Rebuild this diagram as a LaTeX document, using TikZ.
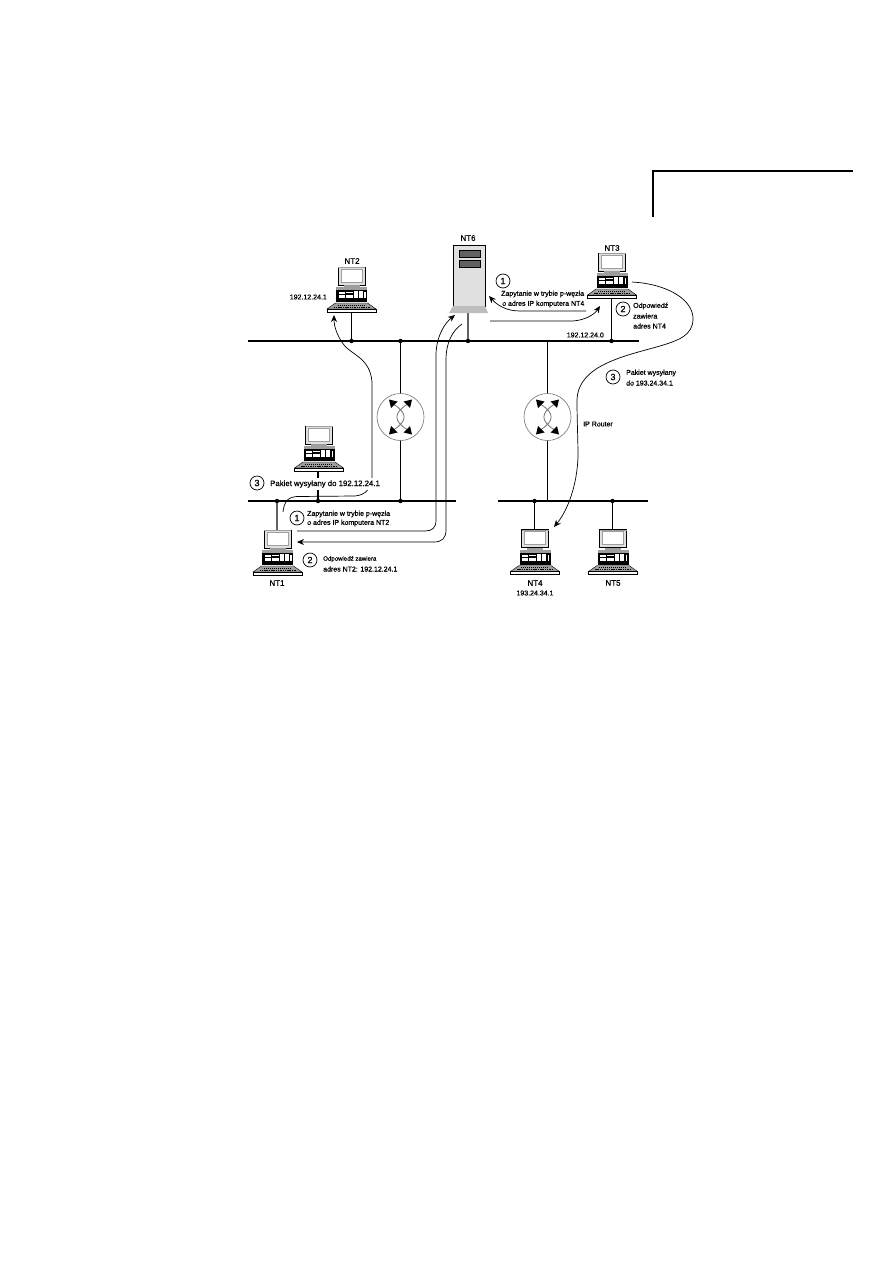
\documentclass[tikz,border=0pt]{standalone}
\usepackage{fontspec}
\setmainfont{Liberation Sans}[FakeBold=0.6]
\usetikzlibrary{arrows.meta}
\definecolor{casegray}{gray}{0.88}
\definecolor{midgray}{gray}{0.62}
\definecolor{lightbase}{gray}{0.74}
\definecolor{darkgray}{gray}{0.38}
\tikzset{
  x=1pt,y=-1pt,
  net/.style={line width=1.4pt,black},
  stem/.style={line width=1.2pt,black},
  greystem/.style={line width=1.8pt,darkgray},
  flow/.style={line width=.7pt,black,-{Stealth[length=7pt,width=6pt]}},
  lbl/.style={inner sep=0pt,font=\fontsize{7}{8}\selectfont},
  lblleft/.style={lbl,anchor=west},
  name lbl/.style={inner sep=0pt,font=\fontsize{8}{9}\selectfont},
  num/.style={circle,draw=black,line width=.7pt,fill=white,minimum size=14pt,inner sep=0pt,font=\fontsize{9}{10}\selectfont},
  dot/.style={circle,fill=black,inner sep=0pt,minimum size=4.4pt},
  computer/.pic={
    % monitor
    \draw[black,line width=.5pt,fill=casegray] (-13.5,-45) rectangle (13.5,-27);
    \fill[midgray] (-13.5,-45) rectangle (13.5,-44);
    \fill[white,draw=midgray,line width=.7pt] (-10.5,-43) rectangle (10.5,-30);
    \fill[midgray] (-8,-27) rectangle (8,-25);
    % system unit
    \fill[midgray] (-15.5,-25) -- (15.5,-25) -- (15.5,-22) -- (-15.5,-22) -- cycle;
    \fill[black] (-15.5,-22) rectangle (15.5,-10);
    \fill[white] (-13,-20) rectangle (-7,-18);
    \fill[white] (-6,-20) rectangle (1,-19);
    \fill[white] (2,-21) rectangle (11,-14);
    \fill[white] (-13,-17) rectangle (1,-14);
    \fill[black] (-7,-21) rectangle (-6,-14);
    \fill[black] (6,-21) rectangle (7,-14);
    \fill[white] (12.5,-20) rectangle (14,-14);
    % keyboard
    \fill[midgray,draw=black,line width=.4pt] (-16,-9) -- (16,-9) -- (24.5,-3) -- (-24.5,-3) -- cycle;
    \draw[black,line width=.6pt,dash pattern=on 1pt off 1pt] (-14,-7) -- (14,-7);
    \draw[black,line width=.6pt,dash pattern=on 1.5pt off .8pt] (-18,-5) -- (18,-5);
    \draw[black,line width=.5pt,fill=white] (-24.5,-3) rectangle (24.5,0);
  },
  router/.pic={
    \draw[black!55,line width=.6pt,fill=white] (0,0) circle (23.5);
    \draw[black!55,line width=.8pt] (-6.5,-12.5) .. controls (7,-4) and (7,4) .. (-6.5,12.5);
    \draw[black!55,line width=.8pt] (6.5,-12.5) .. controls (-7,-4) and (-7,4) .. (6.5,12.5);
    \foreach \sx in {1,-1}{
      \foreach \sy in {1,-1}{
        \fill[black,xscale=\sx,yscale=\sy] (11.5,-17.5) -- (3,-15.5) -- (9.5,-9) -- cycle;
      }
    }
  }
}
\begin{document}
\begin{tikzpicture}
\useasboundingbox (0,0) rectangle (893,1263);
\fill[white] (0,0) rectangle (893,1263);

% page-corner rule
\coordinate (ruleS) at (653,217);
\coordinate (ruleC) at (653,171);
\coordinate (ruleE) at (853,171);
\draw[line width=1.6pt] (ruleS) -- (ruleC) -- (ruleE);

% network segments
\coordinate (topL) at (248,341);  \coordinate (topR) at (639,341);
\coordinate (lowLL) at (248,501); \coordinate (lowLR) at (456,501);
\coordinate (lowRL) at (498,501); \coordinate (lowRR) at (648,501);
\draw[net] (topL) -- (topR);
\draw[net] (lowLL) -- (lowLR);
\draw[net] (lowRL) -- (lowRR);

% junctions on the segments
\node[dot] (jNT2) at (351.5,341) {};
\node[dot] (jRA)  at (400.5,341) {};
\node[dot] (jNT6) at (468,341) {};
\node[dot] (jNT3) at (611.5,341) {};
\node[dot] (jNT1) at (277,501) {};
\node[dot] (jMID) at (318,501) {};
\node[dot] (jRAl) at (400.5,501) {};
\node[dot] (jNT4) at (534.5,501) {};
\node[dot] (jNT5) at (612.5,501) {};
\coordinate (jRB) at (547.5,341);
\coordinate (jRBl) at (547.5,501);

% anchor points of the machines
\coordinate (pNT2) at (351.5,310);
\coordinate (pNT3) at (611.5,297);
\coordinate (pMID) at (318,470);
\coordinate (pNT1) at (277,530);
\coordinate (pNT4) at (534.5,530);
\coordinate (pNT5) at (612.5,530);
\coordinate (pNT6) at (468,312);

% drops from the segments to the machines
\draw[stem] (jNT2) -- (pNT2);
\draw[stem] (jNT3) -- (pNT3);
\draw[stem] (jMID) -- (pMID);
\draw[greystem] (jNT1) -- (pNT1);
\draw[stem] (jNT4) -- (pNT4);
\draw[stem] (jNT5) -- (pNT5);
\draw[greystem] (jNT6) -- (pNT6);
\draw[stem] (jRA) -- (jRAl);
\draw[stem] (jRB) -- (jRBl);

% routers
\pic at (400.5,417) {router};
\pic at (547.5,417) {router};

% workstations
\pic at (351.5,312) {computer};
\pic at (612,298) {computer};
\pic at (319,471) {computer};
\pic at (277.5,575) {computer};
\pic at (535,574.5) {computer};
\pic at (613,574.5) {computer};

% NT6 server tower
\fill[casegray,draw=black,line width=.7pt] (453,245) rectangle (485,306);
\fill[darkgray,draw=black,line width=.6pt] (459,250.5) rectangle (480,257);
\fill[darkgray,draw=black,line width=.6pt] (459,260.5) rectangle (480,267);
\fill[lightbase] (453,306) -- (485,306) -- (488,313) -- (449,313) -- cycle;

% free ends of the traffic paths
\coordinate (aStart) at (283,512);
\coordinate (aEnd) at (334,315);
\coordinate (bStart) at (297,531);
\coordinate (bEnd) at (455,315);
\coordinate (cStart) at (462,324);
\coordinate (cEnd) at (297,542);
\coordinate (dStart) at (586,311);
\coordinate (dEnd) at (489,296);
\coordinate (eStart) at (490,321);
\coordinate (eEnd) at (600,306);
\coordinate (fStart) at (632,282);
\coordinate (fEnd) at (554,527);

% NT1 to NT2
\draw[flow] (aStart) .. controls (284,503) and (287,497) .. (297,496.5)
  -- (355,496) .. controls (366,495) and (372,488) .. (372,476)
  -- (372,382) .. controls (370,358) and (352,355) .. (344,345)
  .. controls (337,336) and (334,326) .. (aEnd);
% query from NT1 towards NT6
\draw[flow] (bStart) -- (425,531) .. controls (432,531) and (436,528) .. (436,520)
  -- (436,353) .. controls (437,335) and (445,323) .. (bEnd);
% answer from NT6 back to NT1
\draw[flow] (cStart) .. controls (452,331) and (446,343) .. (446,360)
  -- (446,530) .. controls (446,538) and (442,542) .. (434,542) -- (cEnd);
% NT3 query to NT6
\draw[flow] (dStart) -- (520,311) .. controls (506,311) and (497,305) .. (dEnd);
% NT6 answer to NT3
\draw[flow] (eStart) -- (573,321) .. controls (585,320) and (594,315) .. (eEnd);
% NT3 to NT4 through the router
\draw[flow] (fStart) .. controls (668,284) and (694,300) .. (693,320)
  .. controls (692,335) and (680,340) .. (660,346)
  .. controls (625,356) and (578,365) .. (577,400)
  .. controls (577,420) and (578,440) .. (578,457)
  .. controls (577,485) and (568,510) .. (fEnd);

% step markers
\node[num] (n1a) at (503,281) {1};
\node[num] (n2a) at (623,309) {2};
\node[num] (n3a) at (613,377) {3};
\node[num] (n3b) at (257,483) {3};
\node[num] (n1b) at (297,518) {1};
\node[num] (n2b) at (310,560) {2};

% machine names
\node[name lbl] (tNT2) at (352,261) {NT2};
\node[name lbl] (tNT6) at (468,238) {NT6};
\node[name lbl] (tNT3) at (612,248) {NT3};
\node[name lbl] (tNT1) at (277,583) {NT1};
\node[name lbl] (tNT4) at (535,583) {NT4};
\node[name lbl] (tNT5) at (613,583) {NT5};

% addresses and notes
\node[lbl,anchor=east] (tA2) at (327,297) {192.12.24.1};
\node[lbl] (tA4) at (535,593) {193.24.34.1};
\node[lbl,anchor=east] (tA0) at (604,335) {192.12.24.0};
\node[lblleft] (tIP) at (583,424) {IP Router};
\node[lblleft] (tq1) at (501,294) {Zapytanie w trybie p-węzła};
\node[lblleft] (tq2) at (502,304) {o adres IP komputera NT4};
\node[lblleft] (to1) at (633,306) {Odpowiedź};
\node[lblleft] (to2) at (633,316) {zawiera};
\node[lblleft] (to3) at (633,326) {adres NT4};
\node[lblleft] (tp1) at (626,373) {Pakiet wysyłany};
\node[lblleft] (tp2) at (626,383) {do 193.24.34.1};
\node[lblleft,fill=white,inner ysep=2.5pt,inner xsep=1pt,font=\fontsize{7.8}{9}\selectfont] (tl3) at (269,484) {Pakiet wysyłany do 192.12.24.1};
\node[lblleft] (tl1) at (307,514) {Zapytanie w trybie p-węzła};
\node[lblleft] (tl2) at (307,523) {o adres IP komputera NT2};
\node[lblleft,font=\fontsize{6.1}{8}\selectfont] (tm1) at (323,559) {Odpowiedź zawiera};
\node[lblleft] (tm2) at (323,569) {adres NT2: 192.12.24.1};
\end{tikzpicture}
\end{document}
